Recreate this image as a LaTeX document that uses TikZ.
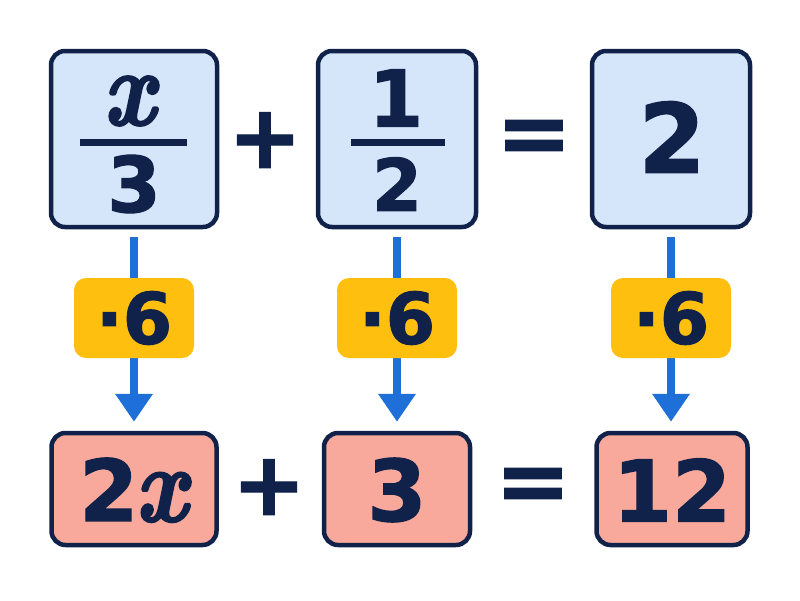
\documentclass[tikz,border=0pt]{standalone}
\usepackage{fontspec}
\setmainfont{DejaVu Sans}[BoldFeatures={FakeBold=1.5}]
\newfontfamily\xfont{Latin Modern Roman}[BoldItalicFeatures={FakeBold=2,FakeStretch=0.85}]
\usetikzlibrary{arrows.meta}
\definecolor{navy}{HTML}{10224A}
\definecolor{lightblue}{HTML}{D6E6FA}
\definecolor{salmon}{HTML}{F8A99B}
\definecolor{gold}{HTML}{FFBF0F}
\definecolor{arrowblue}{HTML}{1F6FD8}
\newcommand{\bigx}{{\xfont\fontsize{108}{108}\selectfont\bfseries\itshape x}}
\begin{document}
\begin{tikzpicture}[x=1pt,y=-1pt,
  topbox/.style={draw=navy, line width=4.5pt, fill=lightblue, rounded corners=14pt, minimum height=176pt},
  botbox/.style={draw=navy, line width=4.5pt, fill=salmon, rounded corners=14pt, minimum height=112pt},
  factor/.style={fill=gold, rounded corners=12pt, minimum width=120pt, minimum height=80pt, inner sep=0pt,
    text=navy, font=\fontsize{71}{71}\selectfont\bfseries},
  txt/.style={inner sep=0pt, text=navy, font=\bfseries},
  conn/.style={draw=arrowblue, line width=8pt, -{Triangle[width=36pt,length=28pt]}, shorten <=8pt, shorten >=9pt},
  fracbar/.style={draw=navy, line width=7pt}]
\useasboundingbox (0,0) rectangle (800,600);
\fill[white] (0,0) rectangle (800,600);
% top row
\node[topbox, minimum width=166pt] (T1) at (134,139) {};
\node[topbox, minimum width=158pt] (T2) at (397,139) {};
\node[topbox, minimum width=158pt] (T3) at (671,139) {};
% bottom row
\node[botbox, minimum width=165pt] (B1) at (134,489) {};
\node[botbox, minimum width=146pt] (B2) at (397,489) {};
\node[botbox, minimum width=151pt] (B3) at (672,489) {};
% connectors
\draw[conn] (T1) -- (B1);
\draw[conn] (T2) -- (B2);
\draw[conn] (T3.south) -- (T3.south |- B3.north);
% factors
\node[factor] (F1) at (134,318) {·6};
\node[factor] (F2) at (397,318) {·6};
\node[factor] (F3) at (671,318) {·6};
% fraction 1
\node[txt] (N1) at (129,101) {\bigx};
\draw[fracbar] (80,142.5) -- (187,142.5);
\node[txt, font=\fontsize{77}{77}\selectfont\bfseries] (D1) at (134,184) {3};
% fraction 2
\node[txt, font=\fontsize{78}{78}\selectfont\bfseries] (N2) at (396,98) {1};
\draw[fracbar] (351,142.5) -- (445,142.5);
\node[txt, font=\fontsize{72}{72}\selectfont\bfseries] (D2) at (397,184) {2};
% right side top
\node[txt, font=\fontsize{96}{96}\selectfont\bfseries] (R1) at (672,137) {2};
% operators top
\node[txt, font=\fontsize{88}{88}\selectfont\bfseries] (P1) at (265,140) {+};
\node[txt, font=\fontsize{90}{90}\selectfont\bfseries] (E1) at (534,142) {=};
% bottom texts
\node[txt, font=\fontsize{85}{85}\selectfont\bfseries] (L1) at (133,490) {2\kern-3pt\raisebox{-0.5pt}{\bigx}};
\node[txt, font=\fontsize{85}{85}\selectfont\bfseries] (L2) at (397,490) {3};
\node[txt, font=\fontsize{85}{85}\selectfont\bfseries] (L3) at (672,490) {12};
\node[txt, font=\fontsize{88}{88}\selectfont\bfseries] (P2) at (269,487) {+};
\node[txt, font=\fontsize{90}{90}\selectfont\bfseries] (E2) at (533,490) {=};
\end{tikzpicture}
\end{document}
